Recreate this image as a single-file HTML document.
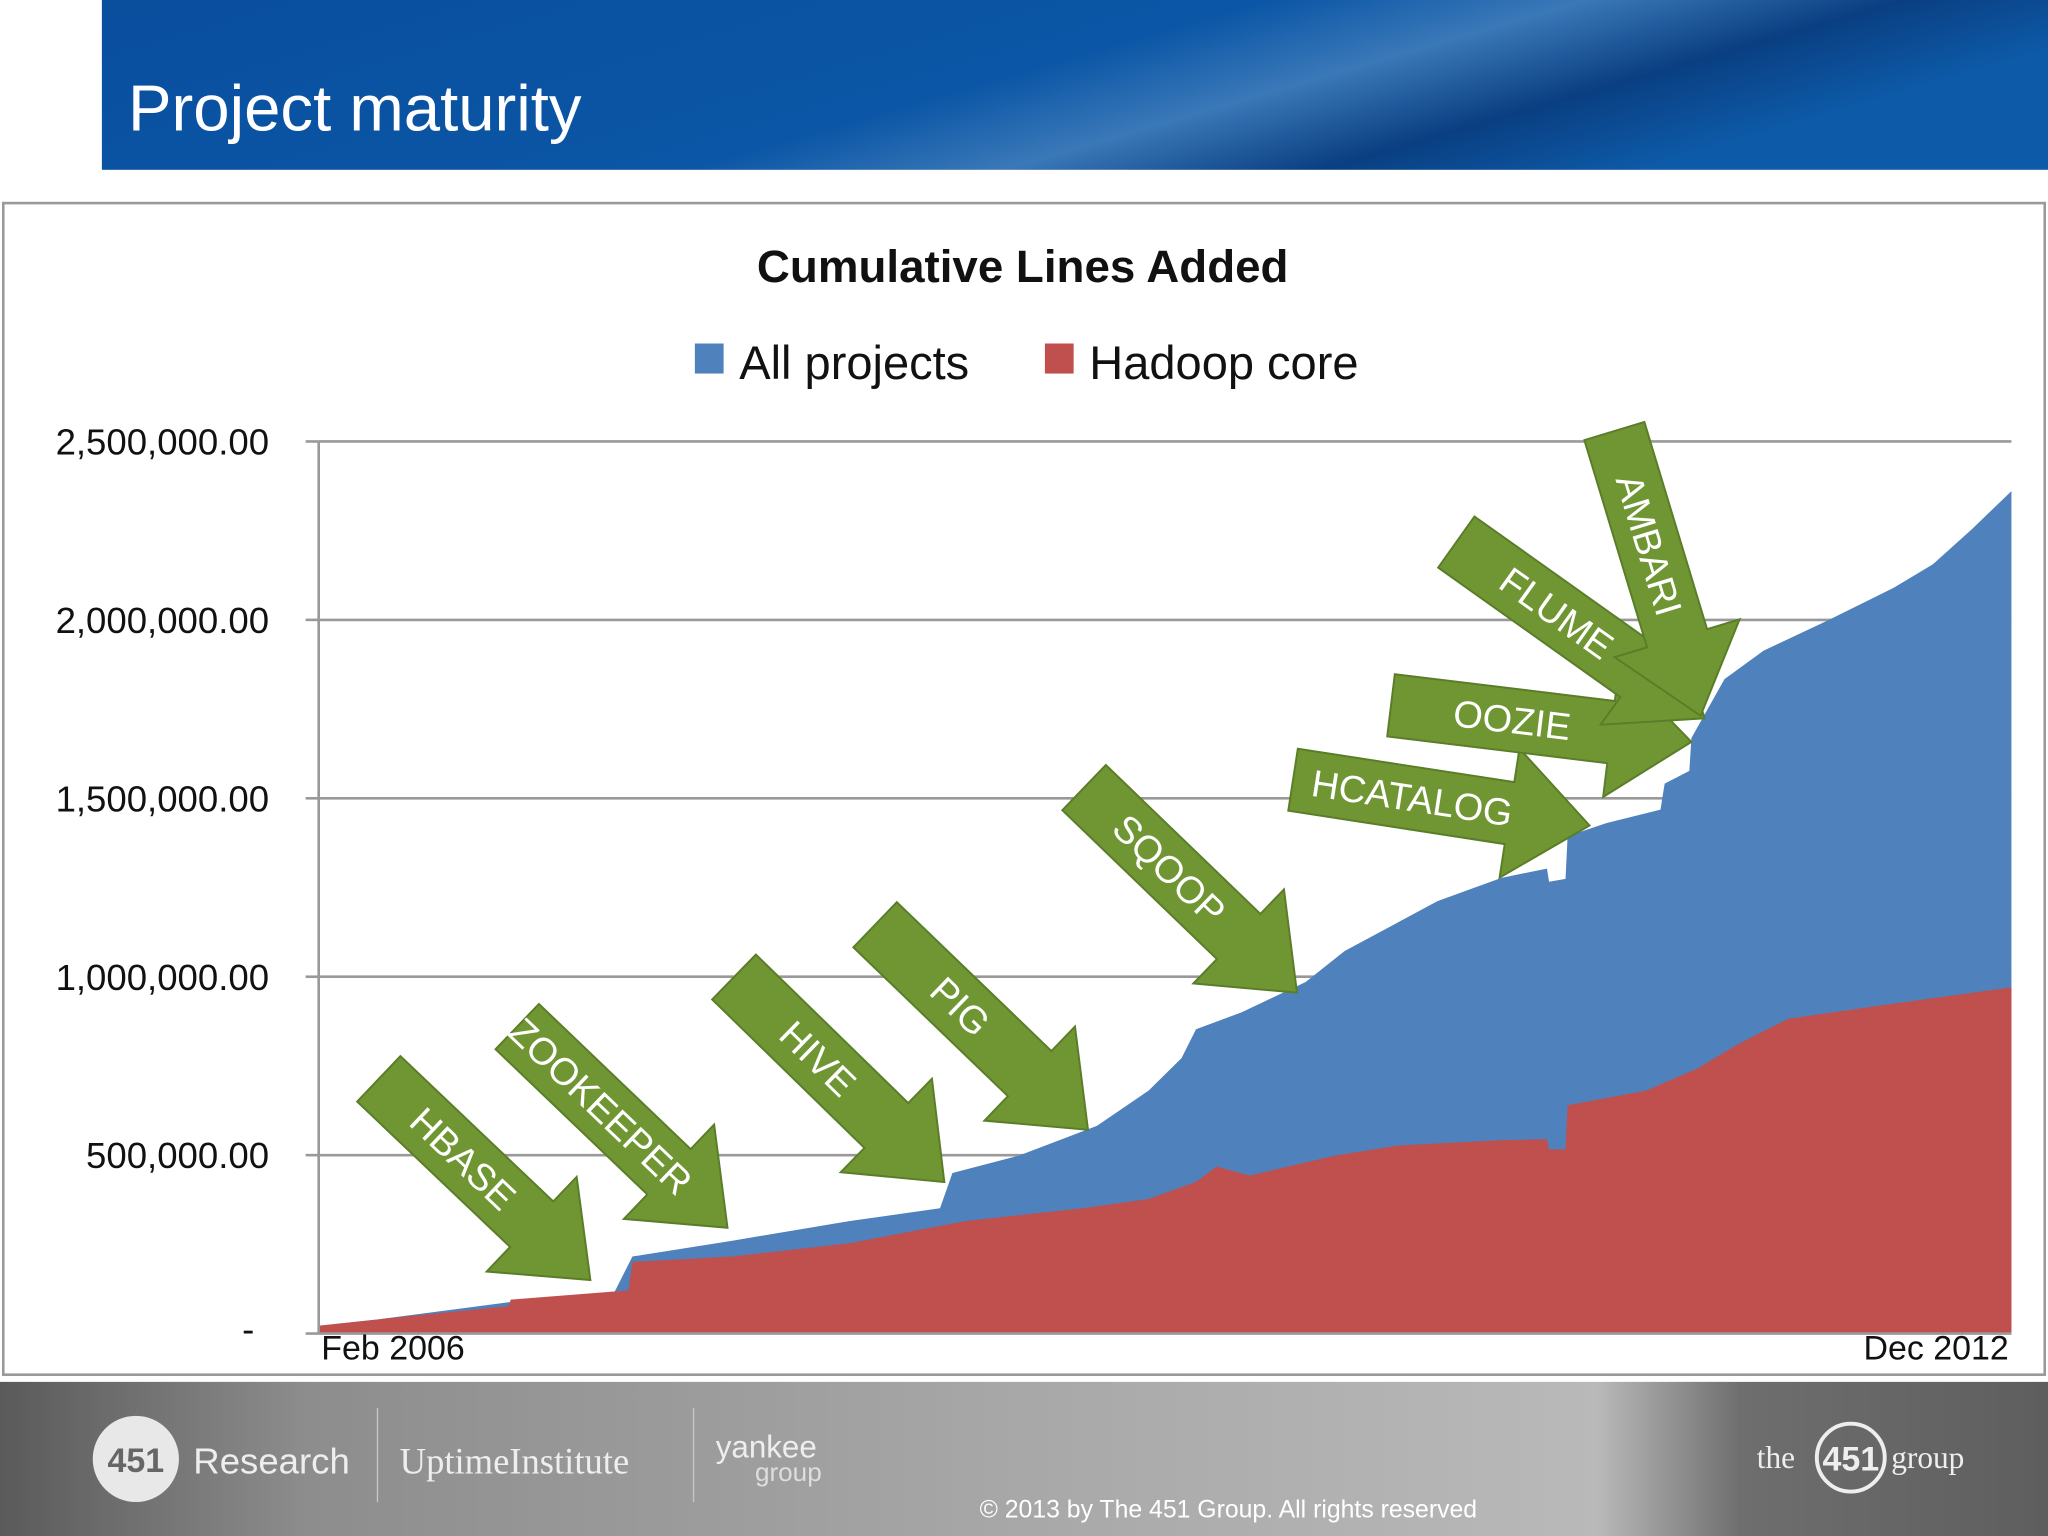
<!DOCTYPE html>
<html><head><meta charset="utf-8"><style>
html,body{margin:0;padding:0;background:#fff;}
svg{display:block;font-family:"Liberation Sans",sans-serif;}
</style></head><body>
<svg id="slide" width="2048" height="1536" viewBox="0 0 1568 1176" xmlns="http://www.w3.org/2000/svg">
<defs>
<linearGradient id="hdr" x1="0" y1="0" x2="1" y2="0.3">
<stop offset="0" stop-color="#0a4e9e"/><stop offset="0.55" stop-color="#0b56a6"/><stop offset="0.7" stop-color="#3a78b8"/><stop offset="0.85" stop-color="#0a3f82"/><stop offset="1" stop-color="#0d5aa8"/>
</linearGradient>
<linearGradient id="ftr" x1="0" y1="0" x2="1" y2="0">
<stop offset="0" stop-color="#5a5a5a"/><stop offset="0.15" stop-color="#8d8d8d"/><stop offset="0.5" stop-color="#a8a8a8"/><stop offset="0.78" stop-color="#b9b9b9"/><stop offset="0.85" stop-color="#6e6e6e"/><stop offset="1" stop-color="#5e5e5e"/>
</linearGradient>
</defs>
<rect x="78" y="0" width="1490" height="130" fill="url(#hdr)"/>
<text x="98" y="100" font-size="50" fill="#fff">Project maturity</text>
<rect x="2.5" y="155.5" width="1563" height="897" fill="#fff" stroke="#999" stroke-width="2"/>
<text x="783" y="216" font-size="35" font-weight="bold" text-anchor="middle" fill="#111">Cumulative Lines Added</text>
<rect x="532" y="263" width="22" height="23" fill="#4f81bd"/>
<text x="566" y="290" font-size="36" fill="#111">All projects</text>
<rect x="800" y="263" width="22" height="23" fill="#c0504d"/>
<text x="834" y="290" font-size="36" fill="#111">Hadoop core</text>
<g id="grid"></g>
<g id="areas"></g>
<g id="axes"></g>
<g id="arrows"></g>
<text x="246" y="1041" font-size="26" fill="#111">Feb 2006</text>
<text x="1538" y="1041" font-size="26" text-anchor="end" fill="#111">Dec 2012</text>
<rect x="0" y="1058" width="1568" height="118" fill="url(#ftr)"/>
<circle cx="104" cy="1117" r="33" fill="#e8e8e8"/>
<text x="104" y="1127" font-size="26" text-anchor="middle" fill="#666" font-weight="bold">451</text>
<text x="148" y="1128" font-size="28" fill="#eee">Research</text>
<line x1="289" y1="1078" x2="289" y2="1150" stroke="#c8c8c8"/>
<text x="306" y="1128" font-size="28" fill="#eee" font-family="Liberation Serif, serif">UptimeInstitute</text>
<line x1="531" y1="1078" x2="531" y2="1150" stroke="#c8c8c8"/>
<text x="548" y="1116" font-size="24" fill="#eee">yankee</text>
<text x="578" y="1134" font-size="20" fill="#ddd">group</text>
<text x="750" y="1162" font-size="19" fill="#fff">© 2013 by The 451 Group. All rights reserved</text>
<text x="1345" y="1124" font-size="24" fill="#eee" font-family="Liberation Serif, serif">the</text>
<circle cx="1417" cy="1116" r="26" fill="none" stroke="#eee" stroke-width="3"/>
<text x="1417" y="1126" font-size="26" fill="#eee" text-anchor="middle" font-weight="bold">451</text>
<text x="1448" y="1124" font-size="24" fill="#eee" font-family="Liberation Serif, serif">group</text>
</svg>
<script>
// chart data (values in thousands of lines; month index from Feb 2006 = 0 to Dec 2012 = 82)
const yTicks = [0, 500, 1000, 1500, 2000, 2500];
const yTickLabels = ["-", "500,000.00", "1,000,000.00", "1,500,000.00", "2,000,000.00", "2,500,000.00"];
const allMonths = [0,2.9,9.2,14.3,15.2,20,25.7,30.1,30.7,33.9,37.7,40.2,41.8,42.5,44.7,47.8,49.7,51.6,54.2,57.3,59.5,59.6,60.4,60.5,62.4,65.0,65.2,66.4,66.5,68.1,70.0,73.1,76.3,78.2,80.1,82];
const allProjects = [22,40,88,113,216,260,315,351,450,498,582,681,772,853,900,985,1072,1131,1212,1277,1303,1266,1274,1394,1431,1468,1541,1577,1669,1834,1914,1998,2090,2156,2255,2361];
const coreMonths = [0,2.9,9.2,9.3,15,15.2,20,25.7,31.3,37,40.2,42.5,43.5,45.1,49.2,52.3,57.3,59.5,59.6,60.4,60.5,64.3,66.8,68.7,69.9,71.2,75.6,82];
const hadoopCore = [22,40,77,95,121,201,216,253,315,351,377,425,468,443,498,527,542,545,516,516,640,681,743,809,845,882,919,970];

const NS = "http://www.w3.org/2000/svg";
const X0 = 244, X1 = 1540, Y0 = 1021, Y1 = 338;
const xScale = m => X0 + (m / 82) * (X1 - X0);
const yScale = v => Y0 - (v / 2500) * (Y0 - Y1);
function mk(tag, attrs, parent) { const e = document.createElementNS(NS, tag); for (const k in attrs) e.setAttribute(k, attrs[k]); parent.appendChild(e); return e; }

const grid = document.getElementById('grid'), axes = document.getElementById('axes'), areas = document.getElementById('areas');
yTicks.forEach((t, i) => {
  const y = yScale(t);
  if (t > 0) {
    const gl = mk('line', {x1: X0, x2: X1, y1: y, y2: y, stroke: '#999', 'stroke-width': 2}, grid);
    
    
  }
  const tk = mk('line', {x1: 234, x2: X0, y1: y, y2: y, stroke: '#999', 'stroke-width': 2}, axes);
  
  
  const lb = mk('text', {x: t === 0 ? 190 : 206, y: y + (t === 0 ? 6 : 10), 'font-size': 28, 'text-anchor': t === 0 ? 'middle' : 'end', fill: '#111'}, axes);
  lb.textContent = yTickLabels[i];
  
  
});
function area(ms, vs, color, name) {
  let d = 'M' + xScale(ms[0]) + ',' + Y0;
  ms.forEach((m, i) => { d += ' L' + xScale(m).toFixed(1) + ',' + yScale(vs[i]).toFixed(1); });
  d += ' L' + xScale(ms[ms.length - 1]) + ',' + Y0 + ' Z';
  const p = mk('path', {d: d, fill: color}, areas);
  
  
}
area(allMonths, allProjects, '#4f81bd', 'all-projects-area');
area(coreMonths, hadoopCore, '#c0504d', 'hadoop-core-area');
const ax = mk('line', {x1: X0, x2: X1, y1: Y0, y2: Y0, stroke: '#999', 'stroke-width': 2}, axes);


const ay = mk('line', {x1: X0, x2: X0, y1: Y1, y2: Y0, stroke: '#999', 'stroke-width': 2}, axes);



// annotation arrows: label, tail x,y, tip x,y
const arrowLabels = ["HBASE","ZOOKEEPER","HIVE","PIG","SQOOP","HCATALOG","OOZIE","FLUME","AMBARI"];
const arrowTails = [[290,826],[396,786],[562,748],[670,708],[830,603],[990,597],[1065,540],[1115,415],[1236,330]];
const arrowTips = [[452,980],[557,940],[723,905],[833,865],[993,760],[1217,632],[1295,568],[1305,550],[1302,548]];
const ag = document.getElementById('arrows');
arrowLabels.forEach((lab, i) => {
  const [sx, sy] = arrowTails[i], [tx, ty] = arrowTips[i];
  const L = Math.hypot(tx - sx, ty - sy), ang = Math.atan2(ty - sy, tx - sx) * 180 / Math.PI;
  const w = 24, hw = 50, hl = 62;
  const g = mk('g', {transform: 'translate(' + sx + ',' + sy + ') rotate(' + ang + ')'}, ag);
  
  
  mk('polygon', {points: [0, -w, L - hl, -w, L - hl, -hw, L, 0, L - hl, hw, L - hl, w, 0, w].join(' ').replace(/(\S+) (\S+)/g, '$1,$2'), fill: '#6f9632', stroke: '#5a7d28', 'stroke-width': 1.5}, g);
  const flip = Math.abs(ang) > 90;
  const tcx = (L - hl) * 0.55;
  const t = mk('text', {x: tcx, y: 10, 'font-size': 29, 'text-anchor': 'middle', fill: '#fff'}, g);
  t.textContent = lab;
  
  
});
</script>
</body></html>
